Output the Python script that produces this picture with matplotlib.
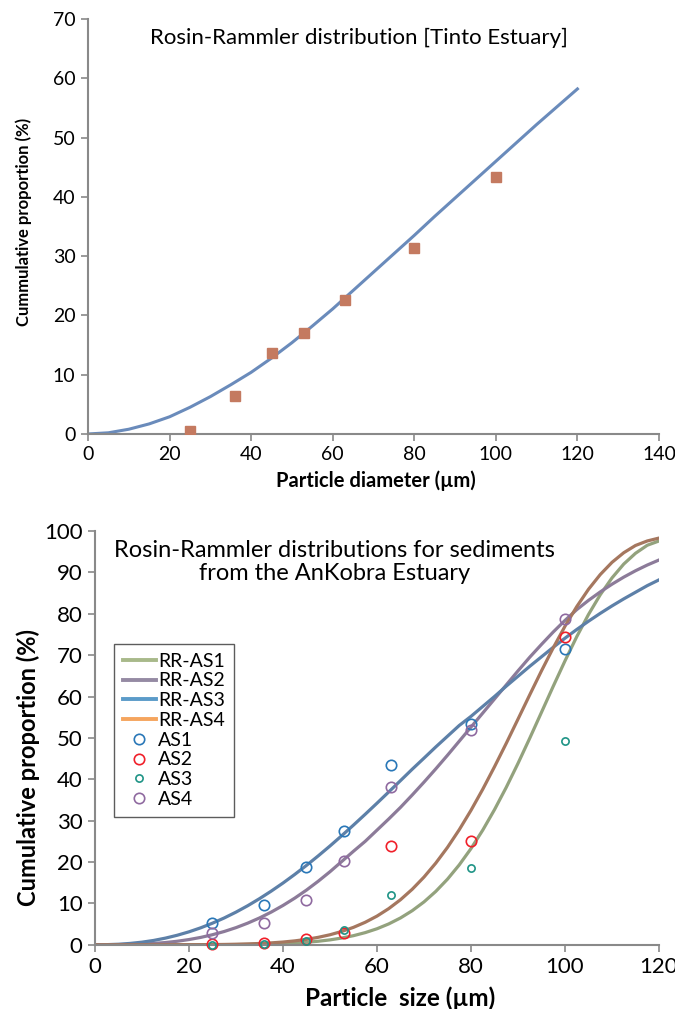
import matplotlib.pyplot as plt
from matplotlib.lines import Line2D

plt.rcParams['font.family'] = ['Lato', 'DejaVu Sans']

# Tinto Estuary - measured points and fitted curve
tinto_x = [25, 36, 45, 53, 63, 80, 100]
tinto_y = [0.5, 6.4, 13.6, 17.1, 22.6, 31.4, 43.3]

curve_x = [0, 5, 10, 15, 20, 25, 30, 35, 40, 45, 50, 55, 60, 65, 70, 75, 80, 85, 90, 95, 100, 105, 110, 115, 120]
tinto_fit = [0, 0.2, 0.8, 1.7, 2.9, 4.5, 6.3, 8.3, 10.4, 12.8, 15.4, 18.2, 21.1, 24.2, 27.3, 30.4, 33.5, 36.7, 39.8, 42.9, 46.0, 49.1, 52.2, 55.2, 58.2]

# AnKobra Estuary
sieve = [25, 36, 45, 53, 63, 80, 100]
as1 = [5.3, 9.5, 18.9, 27.4, 43.4, 53.3, 71.5]
as2 = [0.2, 0.5, 1.4, 2.9, 23.9, 25.1, 74.5]
as3 = [0.0, 0.2, 0.8, 3.5, 12.0, 18.5, 49.2]
as4 = [2.9, 5.3, 10.7, 20.2, 38.1, 51.9, 78.7]

size_x = [0, 2.5, 5, 7.5, 10, 12.5, 15, 17.5, 20, 22.5, 25, 27.5, 30, 32.5, 35, 37.5,
          40, 42.5, 45, 47.5, 50, 52.5, 55, 57.5, 60, 62.5, 65, 67.5, 70, 72.5, 75, 77.5,
          80, 82.5, 85, 87.5, 90, 92.5, 95, 97.5, 100, 102.5, 105, 107.5, 110, 112.5, 115, 117.5, 120]
rr_as1 = [0, 0, 0, 0, 0, 0, 0, 0, 0, 0, 0.01, 0.02, 0.04, 0.07, 0.11, 0.18,
          0.27, 0.4, 0.59, 0.84, 1.17, 1.62, 2.19, 2.93, 3.86, 5.03, 6.47, 8.23, 10.35, 12.88, 15.85, 19.3,
          23.24, 27.7, 32.65, 38.04, 43.83, 49.92, 56.19, 62.48, 68.62, 74.46, 79.83, 84.6, 88.67, 92.02, 94.62, 96.56, 97.6]
rr_as2 = [0, 0, 0.02, 0.07, 0.16, 0.31, 0.53, 0.84, 1.25, 1.77, 2.42, 3.2, 4.13, 5.22, 6.47, 7.89,
          9.49, 11.26, 13.21, 15.35, 17.65, 20.12, 22.6, 25.0, 27.7, 30.4, 33.2, 36.2, 39.3, 42.5, 45.8, 49.2,
          52.6, 56.0, 59.4, 62.8, 66.2, 69.5, 72.6, 75.6, 78.4, 81.0, 83.24, 85.28, 87.15, 88.86, 90.4, 91.78, 93.0]
rr_as3 = [0, 0.02, 0.12, 0.32, 0.62, 1.04, 1.6, 2.29, 3.12, 4.09, 5.21, 6.47, 7.88, 9.43, 11.13, 12.96,
          14.91, 16.99, 19.18, 21.48, 23.87, 26.36, 28.92, 31.54, 34.21, 36.93, 39.67, 42.43, 45.1, 47.8, 50.4, 53.0,
          55.2, 57.6, 60.0, 62.5, 64.9, 67.3, 69.6, 71.9, 74.1, 76.2, 78.2, 80.1, 81.9, 83.6, 85.2, 86.8, 88.2]
rr_as4 = [0, 0, 0, 0, 0, 0, 0, 0.01, 0.01, 0.02, 0.04, 0.07, 0.12, 0.2, 0.3, 0.45,
          0.65, 0.93, 1.3, 1.79, 2.41, 3.21, 4.2, 5.43, 6.92, 8.73, 10.88, 13.41, 16.35, 19.72, 23.53, 27.8,
          32.49, 37.58, 43.02, 48.68, 54.53, 60.41, 66.21, 71.78, 76.99, 81.73, 85.92, 89.48, 92.43, 94.76, 96.51, 97.6, 98.3]

spine_col = '#898989'

fig = plt.figure(figsize=(6.75, 10.09), dpi=100)

def style_axes(ax, size):
    for s in ['top', 'right']:
        ax.spines[s].set_visible(False)
    for s in ['left', 'bottom']:
        ax.spines[s].set_color(spine_col)
        ax.spines[s].set_linewidth(1.5)
    ax.tick_params(direction='out', length=5, width=1.2, color=spine_col,
                   labelsize=size, pad=4)

# ---- top chart
ax1 = fig.add_axes([0.1304, 0.5699, 0.8459, 0.4113])
ax1.plot(curve_x, tinto_fit, color='#6a8bbb', lw=2.2, zorder=2)
ax1.plot(tinto_x, tinto_y, 's', color='#c47a60', ms=6.5, zorder=3)
ax1.set_xlim(0, 140)
ax1.set_ylim(0, 70)
ax1.set_xticks(range(0, 141, 20))
ax1.set_yticks(range(0, 71, 10))
style_axes(ax1, 14)
ax1.text(66.4, 66.8, 'Rosin-Rammler distribution [Tinto Estuary]', fontsize=16,
         ha='center', va='center')
ax1.set_xlabel('Particle diameter (µm)', fontsize=14.5, fontweight='bold')
ax1.set_ylabel('Cummulative proportion (%)', fontsize=12, fontweight='bold')
ax1.xaxis.set_label_coords(0.504, -0.113)
ax1.xaxis.label.set_va('center')
ax1.yaxis.set_label_coords(-0.112, 0.511)
ax1.yaxis.label.set_va('center')

# ---- bottom chart
ax2 = fig.add_axes([0.1407, 0.0637, 0.8356, 0.41])
ax2.plot(size_x, rr_as1, color='#93a27d', lw=2.3, zorder=2)
ax2.plot(size_x, rr_as2, color='#8c7b99', lw=2.3, zorder=2)
ax2.plot(size_x, rr_as3, color='#5d80a8', lw=2.3, zorder=2)
ax2.plot(size_x, rr_as4, color='#a5775f', lw=2.3, zorder=2)

pts = [(as1, '#2a78b8', 7.5), (as2, '#f0202a', 7.5), (as3, '#1f9486', 5.2), (as4, '#8f6aa0', 7.5)]
for vals, c, m in pts:
    ax2.plot(sieve, vals, 'o', mfc='none', mec=c, mew=1.2, ms=m, zorder=3, clip_on=False)

ax2.set_xlim(0, 120)
ax2.set_ylim(0, 100)
ax2.set_xticks(range(0, 121, 20))
ax2.set_yticks(range(0, 101, 10))
style_axes(ax2, 16)
ax2.text(50.9, 92.5, 'Rosin-Rammler distributions for sediments\nfrom the AnKobra Estuary',
         fontsize=17, ha='center', va='center', linespacing=1.15)
ax2.set_xlabel('Particle  size (µm)', fontsize=17.5, fontweight='bold')
ax2.set_ylabel('Cumulative proportion (%)', fontsize=17, fontweight='bold')
ax2.xaxis.set_label_coords(0.541, -0.129)
ax2.xaxis.label.set_va('center')
ax2.yaxis.set_label_coords(-0.119, 0.428)
ax2.yaxis.label.set_va('center')

handles = [
    Line2D([], [], color='#a8b98a', lw=2.8),
    Line2D([], [], color='#958aa3', lw=2.8),
    Line2D([], [], color='#5b9bc9', lw=2.8),
    Line2D([], [], color='#f5a55e', lw=2.8),
    Line2D([], [], ls='none', marker='o', mfc='none', mec='#2a78b8', mew=1.2, ms=7.5),
    Line2D([], [], ls='none', marker='o', mfc='none', mec='#f0202a', mew=1.2, ms=7.5),
    Line2D([], [], ls='none', marker='o', mfc='none', mec='#1f9486', mew=1.2, ms=5.2),
    Line2D([], [], ls='none', marker='o', mfc='none', mec='#8f6aa0', mew=1.2, ms=7.5),
]
labels = ['RR-AS1', 'RR-AS2', 'RR-AS3', 'RR-AS4', 'AS1', 'AS2', 'AS3', 'AS4']
leg = ax2.legend(handles, labels, loc='upper left', bbox_to_anchor=(0.034, 0.727),
                 borderaxespad=0, fontsize=14, frameon=True, fancybox=False,
                 handlelength=1.7, handletextpad=0.1, labelspacing=0.14,
                 borderpad=0.45)
leg.get_frame().set_edgecolor('#333333')
leg.get_frame().set_linewidth(1.0)

fig.savefig('out.png', dpi=100)
